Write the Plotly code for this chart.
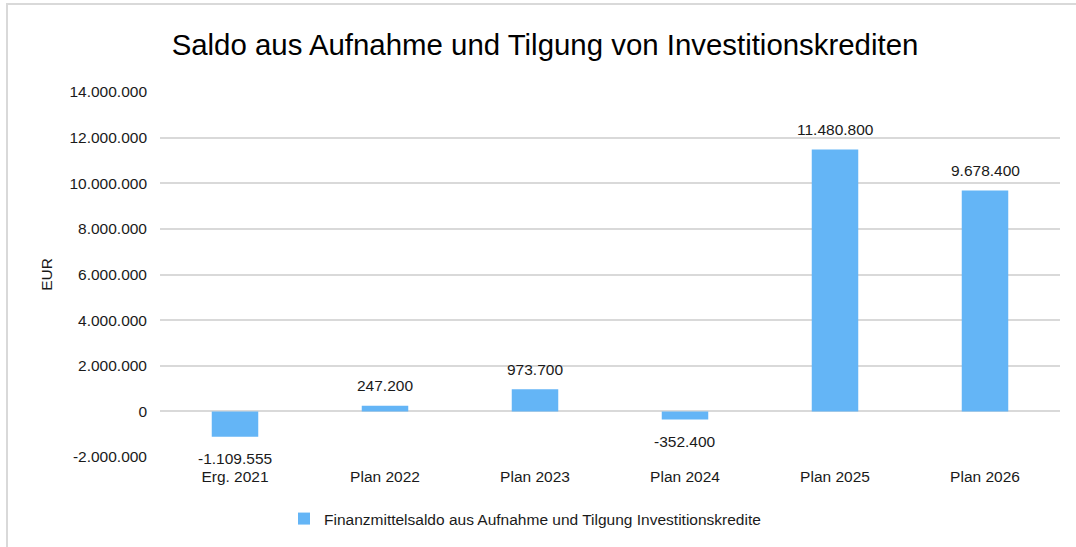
import plotly.graph_objects as go

categories = ["Erg. 2021", "Plan 2022", "Plan 2023", "Plan 2024", "Plan 2025", "Plan 2026"]
values = [-1109555, 247200, 973700, -352400, 11480800, 9678400]
series_name = "Finanzmittelsaldo aus Aufnahme und Tilgung Investitionskredite"
title_text = "Saldo aus Aufnahme und Tilgung von Investitionskrediten"
y_tick_vals = [-2000000, 0, 2000000, 4000000, 6000000, 8000000, 10000000, 12000000, 14000000]

def de(v):
    s = f"{abs(v):,}".replace(",", ".")
    return ("-" if v < 0 else "") + s

y_tick_text = [de(v) for v in y_tick_vals]

W, H = 1076, 547
L, R, T, B = 160, 16, 92, 90
FONT = "Liberation Sans, Arial, sans-serif"

fig = go.Figure()
fig.add_trace(go.Bar(
    x=categories, y=values, name=series_name,
    marker=dict(color="#64B5F6", line=dict(width=0)),
    width=0.31,
    showlegend=True,
))

for c, v in zip(categories, values):
    fig.add_annotation(x=c, y=v, text=de(v), showarrow=False,
                       yanchor="middle", yshift=(20 if v >= 0 else -22),
                       font=dict(size=15.5, color="#1a1a1a", family=FONT))

pw = W - L - R
ph = H - T - B
def px2x(px): return (px - L) / pw
def py2y(py): return (H - B - py) / ph

fig.update_layout(
    width=W, height=H,
    margin=dict(l=L, r=R, t=T, b=B, autoexpand=False),
    paper_bgcolor="white", plot_bgcolor="white",
    font=dict(family=FONT, size=15.5, color="#1a1a1a"),
    title=dict(text=title_text, x=px2x(545), xref="paper", xanchor="center",
               y=1 - 45 / H, yanchor="middle",
               font=dict(size=29.4, color="#000000", family=FONT)),
    xaxis=dict(showgrid=False, showline=False, ticks="", tickfont=dict(size=15.5),
               ticklabelstandoff=8, automargin=False),
    yaxis=dict(range=[-2000000, 14000000], tickmode="array",
               tickvals=y_tick_vals, ticktext=y_tick_text,
               showgrid=True, gridcolor="#d9d9d9", gridwidth=1.5,
               zeroline=True, zerolinecolor="#d9d9d9", zerolinewidth=1.5,
               showline=False, ticks="", ticklen=0, tickfont=dict(size=15.5),
               ticklabelstandoff=12, automargin=False,
               title=dict(text="EUR", font=dict(size=15.5), standoff=12)),
    legend=dict(orientation="h", x=px2x(525), xanchor="center",
                y=py2y(519), yanchor="middle", font=dict(size=15.5),
                itemwidth=30),
)
fig.add_shape(type="rect", xref="paper", yref="paper",
              x0=px2x(7), x1=px2x(W + 5), y0=py2y(H + 5), y1=py2y(4),
              line=dict(color="#d9d9d9", width=2), fillcolor="rgba(0,0,0,0)", layer="below")

fig.write_html("out.html", config={"displayModeBar": False},
               post_script="document.body.style.margin='0';document.body.style.overflow='hidden';")
